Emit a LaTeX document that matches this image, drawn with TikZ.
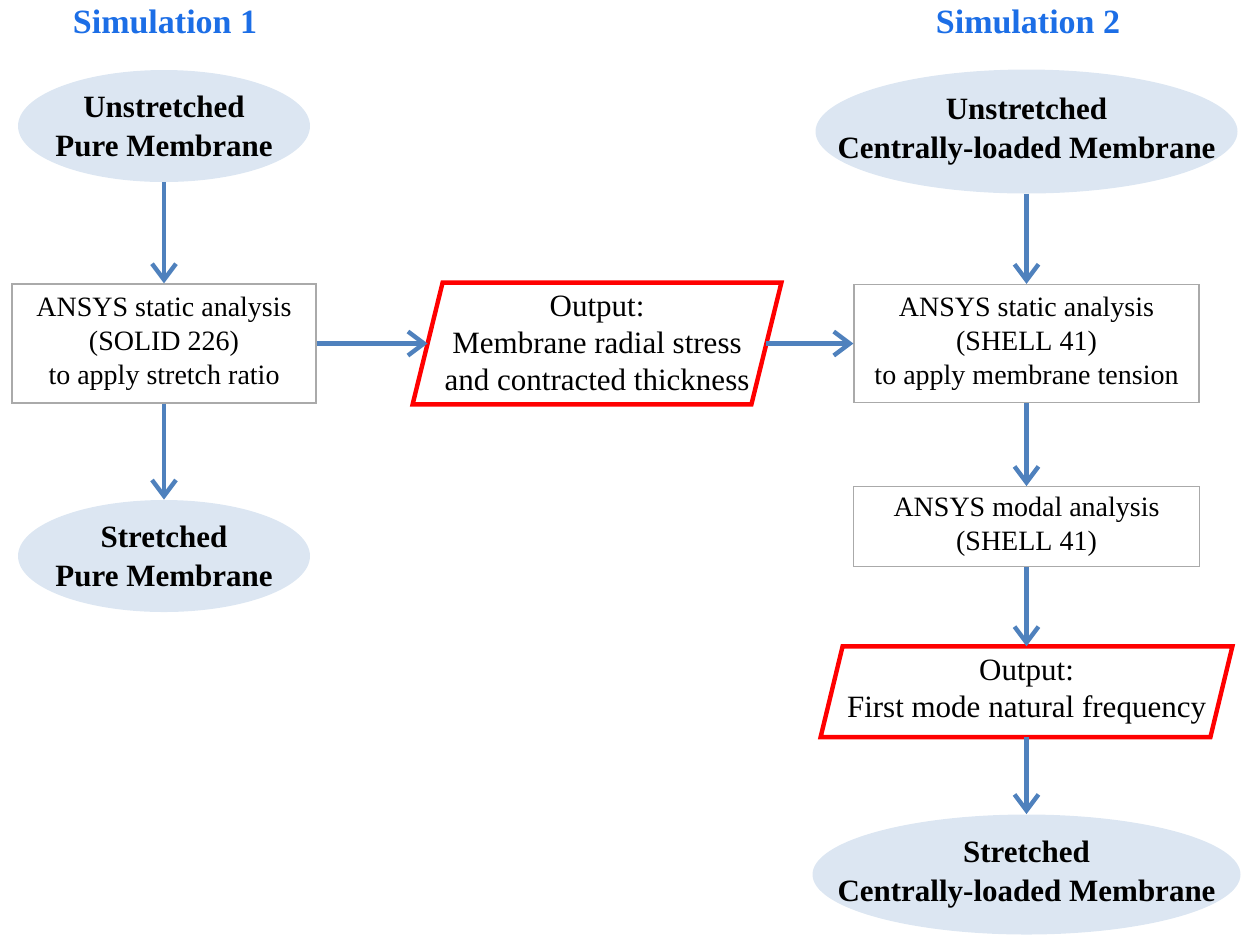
\documentclass[tikz,border=0pt]{standalone}
\usepackage{fontspec}
\setmainfont{Liberation Serif}
\usetikzlibrary{positioning,arrows.meta,shapes.geometric}

\definecolor{simblue}{RGB}{28,110,230}
\definecolor{flowblue}{RGB}{79,129,189}
\definecolor{ellfill}{RGB}{220,230,242}
\definecolor{boxgrey}{RGB}{170,170,170}

\begin{document}
\begin{tikzpicture}[x=0.5pt,y=-0.5pt,
	every node/.style={align=center},
	state/.style={ellipse,fill=ellfill,inner sep=-40pt,font=\fontsize{15.5}{19.5}\selectfont\bfseries},
	box/.style={draw=boxgrey,line width=0.6pt,inner sep=0pt,font=\fontsize{14}{17}\selectfont},
	outbox/.style={inner sep=0pt,font=\fontsize{15.5}{18.5}\selectfont},
	slant/.style={draw=red,line width=2.2pt,line join=miter},
	flow/.style={draw=flowblue,line width=2.2pt,-{Straight Barb[length=8pt,width=12pt]}},
	title/.style={text=simblue,font=\fontsize{17}{20}\selectfont\bfseries}]
	\useasboundingbox (0,0) rectangle (1243,934);
	\node[title] (t1) at (165,22) {Simulation 1};
	\node[title] (t2) at (1028,22) {Simulation 2};
	\node[state,minimum width=146pt,minimum height=56pt] (0) at (164,126) {Unstretched\\Pure Membrane};
		\node[box,minimum width=152pt,minimum height=59.5pt,below=50.5pt of 0] (1) {ANSYS static analysis\\(SOLID 226)\\to apply stretch ratio};
		\node[state,minimum width=146pt,minimum height=56pt,below=48pt of 1] (2) {Stretched\\Pure Membrane};
		\node[outbox,minimum width=169pt,minimum height=60.5pt,right=55.5pt of 1] (3) {Output:\\Membrane radial stress\\and contracted thickness};
		\node[box,minimum width=172.5pt,minimum height=59pt,right=43.5pt of 3] (4) {ANSYS static analysis\\(SHELL 41)\\to apply membrane tension};
		\node[state,minimum width=211pt,minimum height=62pt,above=45pt of 4] (5) {Unstretched\\Centrally-loaded Membrane};
		\node[box,minimum width=173pt,minimum height=40pt,below=41.5pt of 4] (6) {ANSYS modal analysis\\(SHELL 41)};
		\node[outbox,minimum width=194.5pt,minimum height=45pt,below=39.5pt of 6] (7) {Output:\\First mode natural frequency};
		\node[state,minimum width=214pt,minimum height=60pt,below=38.5pt of 7] (8) {Stretched\\Centrally-loaded Membrane};
	\draw[slant] ([xshift=7.5pt]3.north west) -- ([xshift=7.5pt]3.north east) -- ([xshift=-7.5pt]3.south east) -- ([xshift=-7.5pt]3.south west) -- cycle;
	\draw[slant] ([xshift=5.5pt]7.north west) -- ([xshift=5.5pt]7.north east) -- ([xshift=-5.5pt]7.south east) -- ([xshift=-5.5pt]7.south west) -- cycle;
	\draw[flow] (0) -- (1);
	\draw[flow] (1) -- (2);
	\draw[flow] (1) -- (3);
	\draw[flow] (3) -- (4);
	\draw[flow] (5) -- (4);
	\draw[flow] (4) -- (6);
	\draw[flow] (6) -- (7);
	\draw[flow] (7) -- (8);
\end{tikzpicture}
\end{document}
